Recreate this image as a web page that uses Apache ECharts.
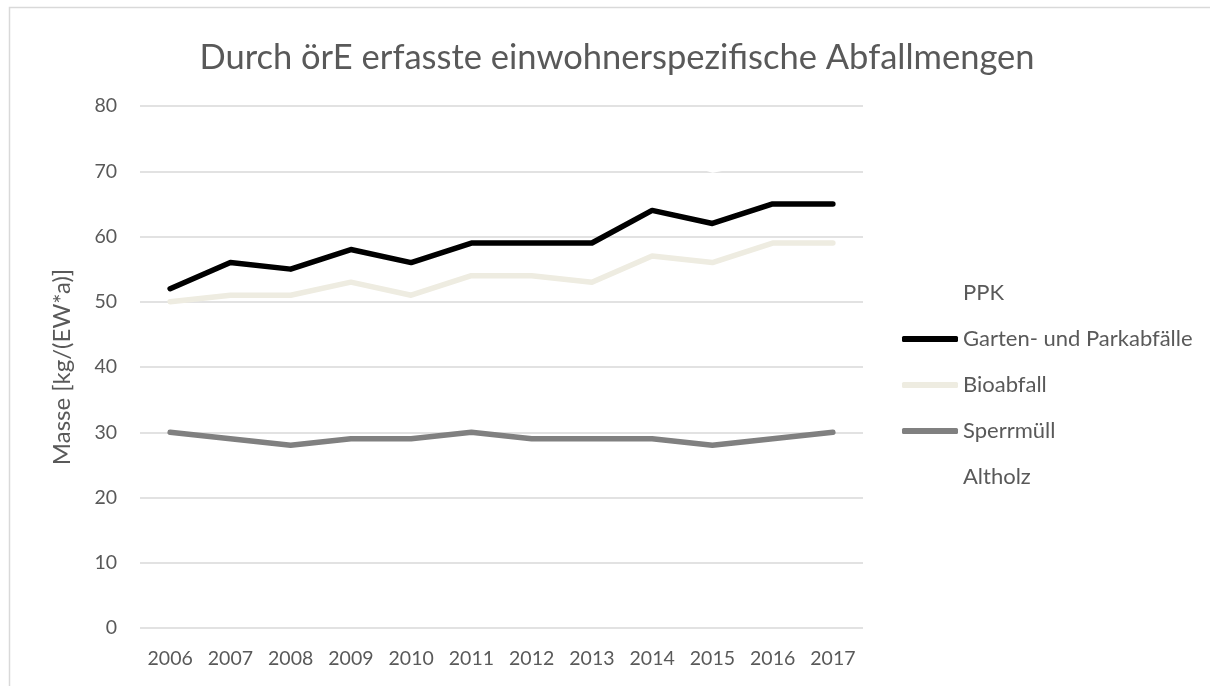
<!DOCTYPE html>
<html>
<head>
<meta charset="utf-8">
<script src="https://cdn.jsdelivr.net/npm/echarts@6/dist/echarts.min.js"></script>
<style>
html,body{margin:0;padding:0;background:#fff;}
#chart{width:1210px;height:686px;}
</style>
</head>
<body>
<div id="chart"></div>
<script>
const years = ['2006','2007','2008','2009','2010','2011','2012','2013','2014','2015','2016','2017'];
const yTicks = [0,10,20,30,40,50,60,70,80];
const ppk = [74,74,73,74,73,74,74,73,73,70.2,72,72];
const garten = [52,56,55,58,56,59,59,59,64,62,65,65];
const bioabfall = [50,51,51,53,51,54,54,53,57,56,59,59];
const sperrmuell = [30,29,28,29,29,30,29,29,29,28,29,30];
const altholz = [14,15,15,16,16,16,17,17,17,17,17,18];

const seriesNames = ['PPK','Garten- und Parkabfälle','Bioabfall','Sperrmüll','Altholz'];
const seriesData = [ppk, garten, bioabfall, sperrmuell, altholz];
const seriesColors = ['#FFFFFF','#000000','#EEECE1','#808080','#FFFFFF'];

const FONT = 'Lato';
const chart = echarts.init(document.getElementById('chart'), null, {renderer:'canvas'});
chart.setOption({
  backgroundColor:'#fff',
  animation:false,
  title:{
    text:'Durch örE erfasste einwohnerspezifische Abfallmengen',
    left:612, top:35, textAlign:'center',
    textStyle:{fontFamily:FONT, fontSize:34.5, fontWeight:'normal', color:'#595959'}
  },
  legend:{
    orient:'vertical',
    left:897, top:277,
    itemWidth:56, itemHeight:6, itemGap:24,
    icon:'roundRect',
    textStyle:{fontFamily:FONT, fontSize:22, color:'#595959', padding:[0,0,0,0]},
    data:seriesNames.map((n,i)=>({name:n, itemStyle:{color:seriesColors[i]}}))
  },
  graphic:[{
    type:'rect', silent:true, z:-10,
    shape:{x:9.5, y:7.5, width:1400, height:900},
    style:{fill:'none', stroke:'#D9D9D9', lineWidth:1.5}
  }],
  grid:{left:140, right:347, top:106, bottom:58, containLabel:false},
  xAxis:{
    type:'category', data:years, boundaryGap:true,
    axisLine:{show:false}, axisTick:{show:false},
    axisLabel:{fontFamily:FONT, fontSize:19.5, color:'#595959', margin:21}
  },
  yAxis:{
    type:'value', min:0, max:80, interval:10,
    name:'Masse [kg/(EW*a)]', nameLocation:'middle', nameGap:66,
    nameTextStyle:{fontFamily:FONT, fontSize:24, color:'#595959'},
    axisLine:{show:false}, axisTick:{show:false},
    axisLabel:{fontFamily:FONT, fontSize:19.5, color:'#595959', margin:23,
      formatter:v=>yTicks.includes(v)?String(v):''},
    splitLine:{lineStyle:{color:'#D9D9D9', width:1.5}}
  },
  series:seriesData.map((d,i)=>({
    name:seriesNames[i], type:'line', data:d,
    showSymbol:false, symbol:'none', clip:true,
    lineStyle:{color:seriesColors[i], width:5.5, cap:'round', join:'round'},
    itemStyle:{color:seriesColors[i]},
    emphasis:{disabled:true}
  }))
});
</script>
</body>
</html>
